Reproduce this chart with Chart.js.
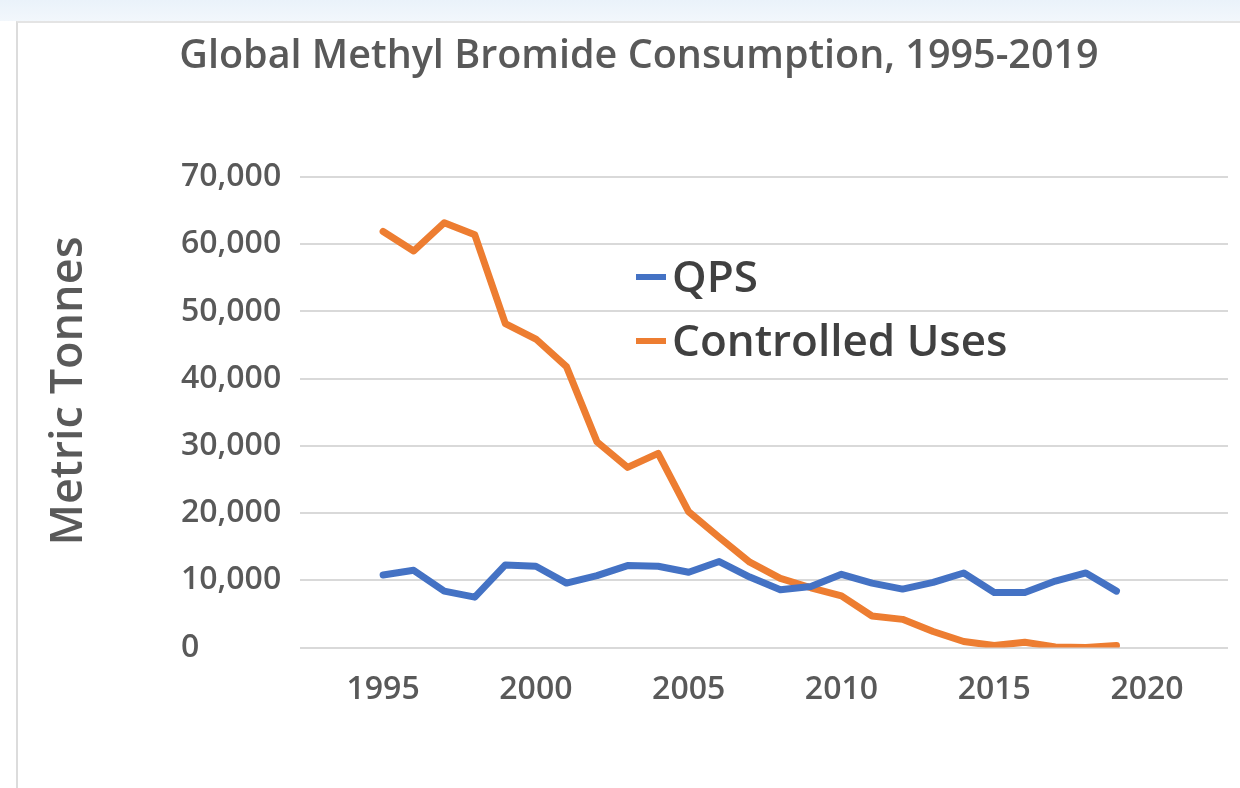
<!DOCTYPE html>
<html lang="en">
<head>
    <meta charset="UTF-8">
    <title>Global Methyl Bromide Consumption</title>
    <script src="https://cdn.jsdelivr.net/npm/chart.js"></script>
    <style>
        html, body {
            margin: 0;
            padding: 0;
            background: #ffffff;
        }
        #topband {
            position: absolute;
            left: 0; top: 0;
            width: 1240px; height: 21px;
            background: linear-gradient(#eaf2fa, #f2f7fc);
        }
        #frame {
            position: absolute;
            left: 16px; top: 21px;
            width: 1224px; height: 767px;
            background: #ffffff;
            border-left: 2px solid #dcdcdc;
            border-top: 2px solid #e4e4e4;
        }
        #wrap {
            position: absolute;
            left: 0; top: 0;
            width: 1240px; height: 788px;
        }
    </style>
</head>
<body>
    <div id="topband"></div>
    <div id="frame"></div>
    <div id="wrap"><canvas id="chart" width="1240" height="788"></canvas></div>

    <script>
        // values (metric tonnes)
        var years = [1995, 1996, 1997, 1998, 1999, 2000, 2001, 2002, 2003, 2004, 2005, 2006,
                     2007, 2008, 2009, 2010, 2011, 2012, 2013, 2014, 2015, 2016, 2017, 2018, 2019];
        var qps = [10800, 11500, 8400, 7500, 12300, 12100, 9600, 10700, 12200, 12100, 11200, 12800,
                   10500, 8600, 9100, 10900, 9600, 8700, 9700, 11100, 8200, 8200, 9900, 11100, 8400];
        var controlled = [61900, 59000, 63200, 61400, 48200, 45900, 41800, 30600, 26800, 28900, 20200, 16400,
                          12700, 10300, 8900, 7700, 4700, 4200, 2400, 900, 300, 800, 100, 0, 300];
        var xTicks = [1995, 2000, 2005, 2010, 2015, 2020];
        var seriesNames = ['QPS', 'Controlled Uses'];
        var seriesColors = ['#4472C4', '#ED7D31'];

        var titleText = 'Global Methyl Bromide Consumption, 1995-2019';
        var yTitleText = 'Metric Tonnes';

        function toPoints(vals) {
            return years.map(function (y, i) { return { x: y, y: vals[i] }; });
        }

        // title, rotated axis title and the in-plot legend
        var decor = {
            id: 'decor',
            afterDraw: function (chart) {
                var ctx = chart.ctx;
                ctx.save();
                ctx.fillStyle = '#595959';
                ctx.font = '600 39.5px "Open Sans"';
                ctx.textAlign = 'center';
                ctx.textBaseline = 'middle';
                ctx.fillText(titleText, 639, 57);

                ctx.save();
                ctx.translate(82, 391);
                ctx.rotate(-Math.PI / 2);
                ctx.textBaseline = 'alphabetic';
                ctx.font = '600 45px "Open Sans"';
                ctx.fillText(yTitleText, 0, 0);
                ctx.restore();

                var rows = [277, 341];
                chart.data.datasets.forEach(function (ds, i) {
                    ctx.strokeStyle = ds.borderColor;
                    ctx.lineWidth = 6;
                    ctx.beginPath();
                    ctx.moveTo(636, rows[i]);
                    ctx.lineTo(666, rows[i]);
                    ctx.stroke();
                    ctx.fillStyle = '#404040';
                    ctx.font = '600 44px "Open Sans"';
                    ctx.textAlign = 'left';
                    ctx.textBaseline = 'middle';
                    ctx.fillText(ds.label, 672, rows[i] + 2);
                });
                ctx.restore();
            }
        };

        new Chart(document.getElementById('chart').getContext('2d'), {
            type: 'line',
            data: {
                datasets: [{
                    label: seriesNames[0],
                    data: toPoints(qps),
                    borderColor: seriesColors[0],
                    backgroundColor: seriesColors[0],
                    borderWidth: 7,
                    pointRadius: 0,
                    tension: 0,
                    borderJoinStyle: 'round',
                    borderCapStyle: 'round'
                }, {
                    label: seriesNames[1],
                    data: toPoints(controlled),
                    borderColor: seriesColors[1],
                    backgroundColor: seriesColors[1],
                    borderWidth: 7,
                    pointRadius: 0,
                    tension: 0,
                    borderJoinStyle: 'round',
                    borderCapStyle: 'round'
                }]
            },
            options: {
                responsive: false,
                animation: false,
                layout: {
                    padding: { left: 181, right: 12, top: 177, bottom: 56 }
                },
                plugins: {
                    legend: { display: false },
                    title: { display: false },
                    tooltip: { enabled: false }
                },
                scales: {
                    x: {
                        type: 'linear',
                        min: 1992.28,
                        max: 2022.65,
                        afterBuildTicks: function (scale) {
                            scale.ticks = xTicks.map(function (v) { return { value: v }; });
                        },
                        grid: { display: false, drawTicks: false },
                        border: { display: false },
                        ticks: {
                            padding: 23,
                            color: '#595959',
                            font: { family: 'Open Sans', size: 32, weight: '600' },
                            callback: function (v) { return String(v); }
                        }
                    },
                    y: {
                        min: 0,
                        max: 70000,
                        afterFit: function (scale) { scale.width = 119; },
                        grid: { color: '#d9d9d9', lineWidth: 2, drawTicks: false },
                        border: { display: false },
                        ticks: {
                            stepSize: 10000,
                            crossAlign: 'far',
                            padding: 13,
                            color: '#595959',
                            font: { family: 'Open Sans', size: 32, weight: '600' },
                            callback: function (v) { return v.toLocaleString('en-US'); }
                        }
                    }
                }
            },
            plugins: [decor]
        });
    </script>
</body>
</html>
